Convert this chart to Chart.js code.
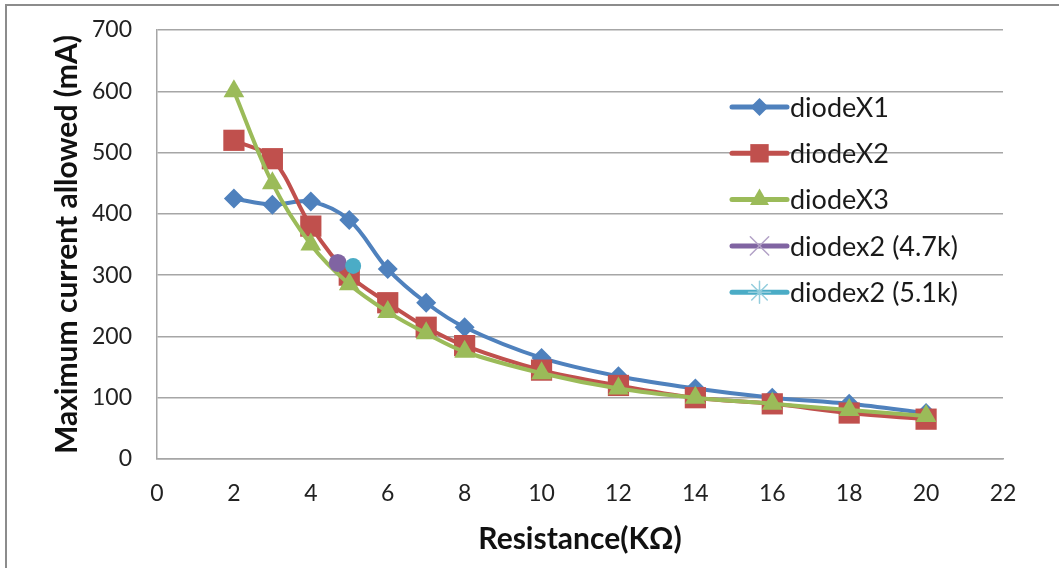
<!DOCTYPE html>
<html lang="en">
<head>
    <meta charset="UTF-8">
    <title>Maximum current allowed vs Resistance</title>
    <script src="https://cdn.jsdelivr.net/npm/chart.js"></script>
    <style>
        html, body { margin: 0; padding: 0; background: #fff; overflow: hidden; }
        #frame { position: absolute; left: 5px; top: 4px; width: 1100px; height: 620px; border: 2px solid #8c8c8c; }
        #chart-container { position: absolute; left: 0; top: 0; width: 1059px; height: 568px; }
    </style>
</head>
<body>
    <div id="frame"></div>
    <div id="chart-container">
        <canvas id="myChart"></canvas>
    </div>

    <script>
        // Resistance in kOhm
        var resistance = [2, 3, 4, 5, 6, 7, 8, 10, 12, 14, 16, 18, 20];
        // Maximum current allowed in mA
        var diodeX1 = [425, 415, 420, 390, 310, 255, 215, 165, 135, 115, 100, 90, 75];
        var diodeX2 = [520, 490, 380, 300, 255, 215, 185, 145, 120, 100, 90, 75, 65];
        var diodeX3 = [600, 450, 350, 285, 240, 205, 175, 140, 115, 100, 90, 80, 70];
        // single measurements
        var diodex2_47k_x = [4.7];
        var diodex2_47k_y = [320];
        var diodex2_51k_x = [5.1];
        var diodex2_51k_y = [315];

        var seriesNames = ['diodeX1', 'diodeX2', 'diodeX3', 'diodex2 (4.7k)', 'diodex2 (5.1k)'];
        var seriesColors = ['#4F81BD', '#C0504D', '#9BBB59', '#8064A2', '#4BACC6'];

        function toPoints(xs, ys) {
            return xs.map(function (x, i) { return { x: x, y: ys[i] }; });
        }

        var FONT = 'Lato, "Open Sans", sans-serif';

        // Excel style legend: line segment with the marker in the middle
        var legendMarkers = [
            { pointStyle: 'rectRot', radius: 9, fill: true },
            { pointStyle: 'rect', radius: 13, fill: true },
            { pointStyle: 'triangle', radius: 11, fill: true },
            { pointStyle: 'crossRot', radius: 13, fill: false, color: '#B3A2C7' },
            { pointStyle: 'star', radius: 11, fill: false, color: '#93CDDD' }
        ];

        var excelLegend = {
            id: 'excelLegend',
            afterDraw: function (chart) {
                var ctx = chart.ctx;
                var x0 = 732, x1 = 787, y0 = 107, dy = 46.3;
                ctx.save();
                for (var i = 0; i < seriesNames.length; i++) {
                    var y = y0 + i * dy;
                    ctx.strokeStyle = seriesColors[i];
                    ctx.lineWidth = 5;
                    ctx.lineCap = 'round';
                    ctx.beginPath();
                    ctx.moveTo(x0, y);
                    ctx.lineTo(x1, y);
                    ctx.stroke();

                    var m = legendMarkers[i];
                    ctx.fillStyle = seriesColors[i];
                    ctx.strokeStyle = m.color || seriesColors[i];
                    ctx.lineWidth = m.fill ? 0 : 1.5;
                    Chart.helpers.drawPoint(ctx, {
                        pointStyle: m.pointStyle,
                        radius: m.radius,
                        rotation: 0,
                        borderWidth: m.fill ? 0 : 1.5
                    }, (x0 + x1) / 2, y);

                    ctx.fillStyle = '#1a1a1a';
                    ctx.font = '27px ' + FONT;
                    ctx.textBaseline = 'middle';
                    ctx.textAlign = 'left';
                    ctx.fillText(seriesNames[i], 790, y + 1);
                }
                ctx.restore();
            }
        };

        function createGraph() {
            var ctx = document.getElementById('myChart').getContext('2d');
            new Chart(ctx, {
                type: 'scatter',
                data: {
                    datasets: [{
                        label: seriesNames[0],
                        data: toPoints(resistance, diodeX1),
                        borderColor: seriesColors[0],
                        backgroundColor: seriesColors[0],
                        pointStyle: 'rectRot',
                        pointRadius: 10,
                        order: 5
                    }, {
                        label: seriesNames[1],
                        data: toPoints(resistance, diodeX2),
                        borderColor: seriesColors[1],
                        backgroundColor: seriesColors[1],
                        pointStyle: 'rect',
                        pointRadius: 15,
                        order: 4
                    }, {
                        label: seriesNames[2],
                        data: toPoints(resistance, diodeX3),
                        borderColor: seriesColors[2],
                        backgroundColor: seriesColors[2],
                        pointStyle: 'triangle',
                        pointRadius: 12,
                        order: 3
                    }, {
                        label: seriesNames[3],
                        data: toPoints(diodex2_47k_x, diodex2_47k_y),
                        borderColor: seriesColors[3],
                        backgroundColor: seriesColors[3],
                        pointStyle: 'circle',
                        pointRadius: 9,
                        order: 2
                    }, {
                        label: seriesNames[4],
                        data: toPoints(diodex2_51k_x, diodex2_51k_y),
                        borderColor: seriesColors[4],
                        backgroundColor: seriesColors[4],
                        pointStyle: 'circle',
                        pointRadius: 8,
                        order: 1
                    }]
                },
                options: {
                    responsive: true,
                    maintainAspectRatio: false,
                    animation: false,
                    devicePixelRatio: 1,
                    showLine: true,
                    elements: {
                        line: { borderWidth: 4, tension: 0.35 },
                        point: { borderWidth: 0, hoverRadius: 10 }
                    },
                    layout: { padding: { left: 0, top: 30, right: 56, bottom: 0 } },
                    plugins: {
                        legend: { display: false },
                        tooltip: { enabled: false }
                    },
                    scales: {
                        x: {
                            type: 'linear',
                            min: 0,
                            max: 22,
                            ticks: {
                                stepSize: 2,
                                padding: 21,
                                color: '#222',
                                font: { family: FONT, size: 23 }
                            },
                            grid: { display: false, drawTicks: false },
                            border: { display: true, color: '#a6a6a6', width: 1.5 },
                            title: {
                                display: true,
                                text: 'Resistance(KΩ)',
                                color: '#111',
                                font: { family: FONT, size: 30, weight: 'bold' },
                                padding: { top: 0, bottom: 11 }
                            },
                            afterFit: function (scale) { scale.height = 109; }
                        },
                        y: {
                            min: 0,
                            max: 700,
                            ticks: {
                                stepSize: 100,
                                padding: 25,
                                color: '#222',
                                font: { family: FONT, size: 23 }
                            },
                            grid: { color: '#a6a6a6', lineWidth: 1.5, drawTicks: false },
                            border: { display: true, color: '#a6a6a6', width: 1.5 },
                            title: {
                                display: true,
                                text: 'Maximum current allowed (mA)',
                                color: '#111',
                                font: { family: FONT, size: 30, weight: 'bold' },
                                padding: { top: 49, bottom: 0 }
                            },
                            afterFit: function (scale) {
                                scale.width = 157;
                                // tick padding is horizontal here, don't let it push the top down
                                scale.paddingTop = 0;
                                scale.paddingBottom = 0;
                            }
                        }
                    }
                },
                plugins: [excelLegend]
            });
        }

        createGraph();
    </script>
</body>
</html>
